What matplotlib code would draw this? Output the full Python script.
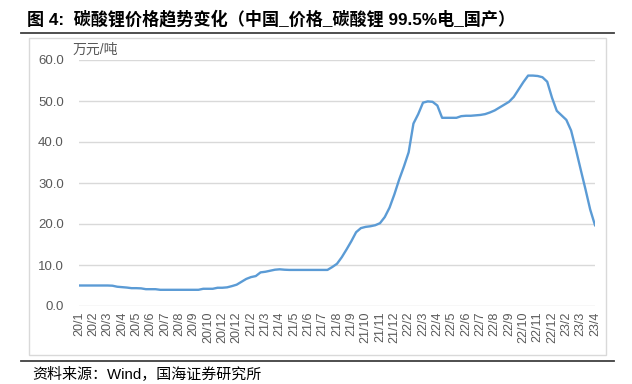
import numpy as np
import matplotlib
matplotlib.use("Agg")
import matplotlib.pyplot as plt
from matplotlib.lines import Line2D
from matplotlib.patches import Rectangle

plt.rcParams['font.family'] = ['Liberation Sans', 'Noto Sans CJK SC', 'DejaVu Sans']

title = "图 4:  碳酸锂价格趋势变化（中国_价格_碳酸锂 99.5%电_国产）"
source = "资料来源：Wind，国海证券研究所"
unit = "万元/吨"

tick_labels = ["20/1", "20/2", "20/3", "20/4", "20/5", "20/6", "20/7", "20/8", "20/9",
               "20/10", "20/12", "20/12", "21/2", "21/3", "21/4", "21/5", "21/6", "21/7",
               "21/8", "21/9", "21/10", "21/11", "21/12", "22/2", "22/3", "22/4", "22/5",
               "22/6", "22/7", "22/8", "22/9", "22/10", "22/11", "22/12", "23/2", "23/3", "23/4"]

# price, 3 samples per tick interval
price = [5.0, 5.0, 5.0, 5.0, 5.0, 5.0, 5.0, 4.95, 4.7, 4.6,
         4.5, 4.35, 4.35, 4.3, 4.1, 4.1, 4.1, 3.95, 3.95, 3.95,
         3.95, 3.95, 3.95, 3.95, 3.95, 3.95, 4.2, 4.2, 4.2, 4.45,
         4.45, 4.55, 4.85, 5.2, 5.9, 6.6, 7.05, 7.3, 8.2, 8.35,
         8.6, 8.85, 8.95, 8.85, 8.8, 8.8, 8.8, 8.8, 8.8, 8.8,
         8.8, 8.8, 8.8, 9.5, 10.3, 11.9, 13.8, 15.8, 18.0, 19.0,
         19.3, 19.45, 19.7, 20.2, 21.7, 24.0, 27.2, 30.8, 34.0, 37.5,
         44.5, 46.8, 49.6, 49.9, 49.8, 48.9, 45.9, 45.9, 45.9, 45.9,
         46.3, 46.4, 46.4, 46.5, 46.6, 46.8, 47.2, 47.7, 48.4, 49.1,
         49.8, 51.0, 52.8, 54.6, 56.2, 56.2, 56.1, 55.8, 54.7, 50.8,
         47.6, 46.5, 45.4, 42.8, 38.2, 33.3, 28.5, 23.5, 19.7]

yticks = [0, 10, 20, 30, 40, 50, 60]

W, H = 632, 384
fig = plt.figure(figsize=(W / 100, H / 100), dpi=100)

def fx(px):
    return px / W

def fy(py):
    return 1 - py / H

ax = fig.add_axes([fx(79), fy(306), fx(595) - fx(79), fy(60) - fy(306)])

n_int = len(tick_labels) - 1
x = np.linspace(0, n_int, len(price))
ax.plot(x, price, color="#5B9BD5", lw=1.7, solid_joinstyle='round', zorder=3)

ax.set_xlim(0, n_int)
ax.set_ylim(0, 60)
ax.set_yticks(yticks)
ax.set_yticklabels([f"{v:.1f}" for v in yticks])
ax.set_xticks(range(len(tick_labels)))
ax.set_xticklabels(tick_labels, rotation=90,
                   family=['Liberation Sans Narrow', 'Liberation Sans', 'DejaVu Sans'])
for s in ax.spines.values():
    s.set_visible(False)
ax.grid(axis='y', color="#D9D9D9", lw=1.0)
ax.set_axisbelow(True)
ax.tick_params(axis='y', length=0, pad=11, labelsize=9.5, labelcolor="#595959")
ax.tick_params(axis='x', length=0, pad=4, labelsize=9, labelcolor="#595959")

ax.text(fx(73), fy(54), unit, transform=fig.transFigure, fontsize=10, color="#595959",
        ha='left', va='baseline')

# frame and rules
fig.add_artist(Rectangle((fx(29), fy(355)), fx(606) - fx(29), fy(38) - fy(355),
                         fill=False, edgecolor="#D9D9D9", lw=1.0, transform=fig.transFigure))
fig.add_artist(Line2D([fx(21), fx(614)], [fy(33), fy(33)], color="#404040", lw=1.3,
                      transform=fig.transFigure))
fig.add_artist(Line2D([fx(21), fx(614)], [fy(361), fy(361)], color="#404040", lw=1.3,
                      transform=fig.transFigure))

fig.text(fx(27), fy(19), title, fontsize=12.3, fontweight='bold', color="#000000",
         ha='left', va='center')
fig.text(fx(32), fy(375), source, fontsize=10.8, color="#000000", ha='left', va='center')

fig.savefig("out.png", dpi=100)
